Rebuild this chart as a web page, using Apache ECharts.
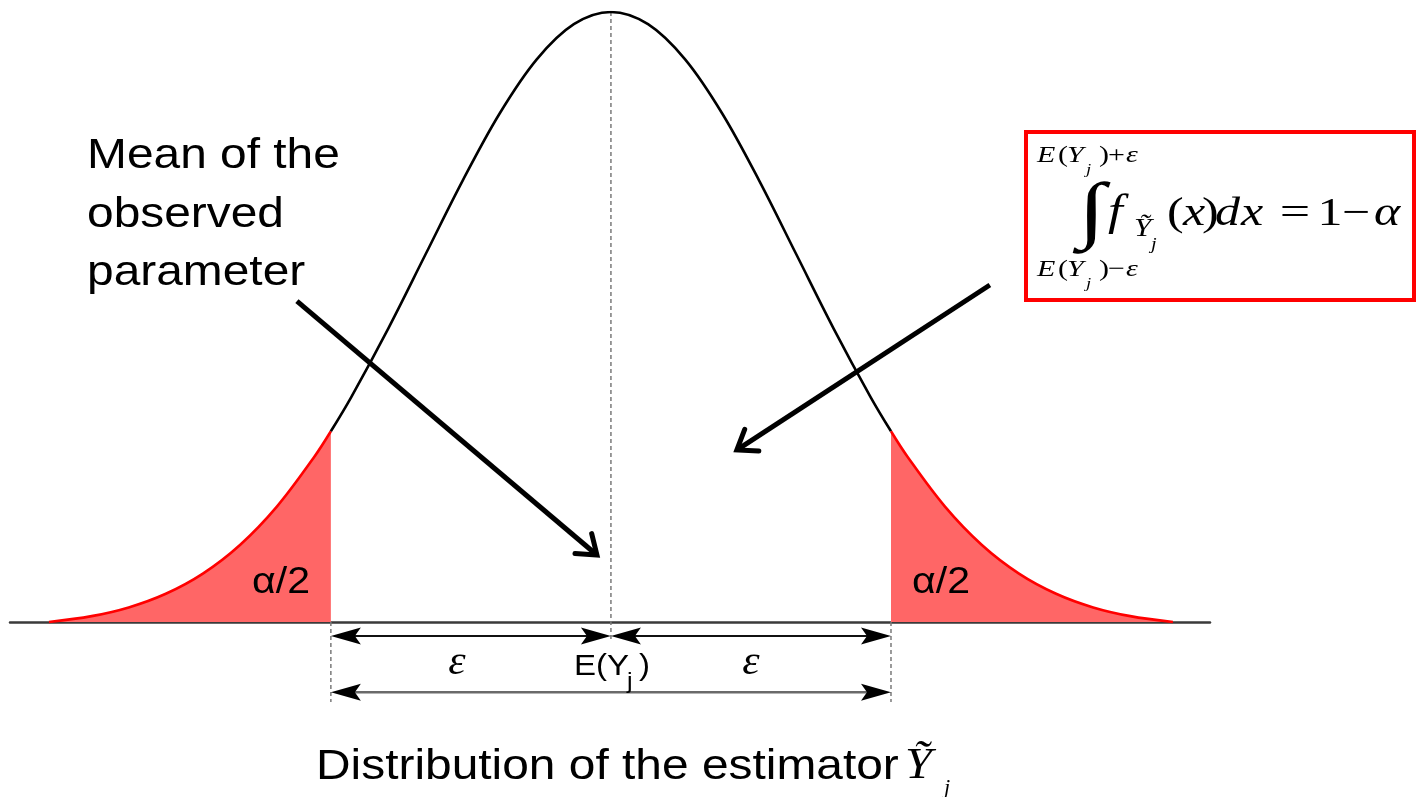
<!DOCTYPE html>
<html>
<head>
<meta charset="utf-8">
<script src="https://cdn.jsdelivr.net/npm/echarts@6/dist/echarts.min.js"></script>
<style>
  html, body { margin: 0; padding: 0; background: #ffffff; }
  #chart { width: 1416px; height: 797px; }
</style>
</head>
<body>
<div id="chart"></div>
<script>
// Position along the estimator axis (in standard deviations from the mean)
const curveX = [-3.03, -2.8, -2.6, -2.4, -2.2, -2.0, -1.8, -1.6, -1.51, -1.4, -1.2, -1.0, -0.8, -0.6, -0.4, -0.2, 0,
                0.2, 0.4, 0.6, 0.8, 1.0, 1.2, 1.4, 1.51, 1.6, 1.8, 2.0, 2.2, 2.4, 2.6, 2.8, 3.03];
// Relative density height of the estimator's distribution at each position
const curveY = [0, 0.0096, 0.0239, 0.0463, 0.0794, 0.1263, 0.1896, 0.2705, 0.3127, 0.3688, 0.4815, 0.6024, 0.7232, 0.8336, 0.9223, 0.98, 1,
                0.98, 0.9223, 0.8336, 0.7232, 0.6024, 0.4815, 0.3688, 0.3127, 0.2705, 0.1896, 0.1263, 0.0794, 0.0463, 0.0239, 0.0096, 0];
const meanValue = 0;      // E(Y_j)
const epsilon = 1.51;     // half-width of the band around the mean

// Dimension arrows: [from, to, level below the axis]
const dimensionArrows = [
  [-epsilon, meanValue, -0.023],
  [meanValue, epsilon, -0.023],
  [-epsilon, epsilon, -0.115]
];
// Dashed guides: [x, top, bottom]
const guideLines = [
  [meanValue, 1, -0.03],
  [-epsilon, 0, -0.131],
  [epsilon, 0, -0.131]
];
// Pointer arrows: [x start, y start, x tip, y tip]
const pointerArrows = [
  [-1.693, 0.526, -0.0755, 0.1098],
  [2.043, 0.5525, 0.679, 0.282]
];

const pts = curveX.map((x, i) => [x, curveY[i]]);
const leftTail = pts.filter(p => p[0] <= -epsilon);
const centre = pts.filter(p => p[0] >= -epsilon && p[0] <= epsilon);
const rightTail = pts.filter(p => p[0] >= epsilon);

const chart = echarts.init(document.getElementById('chart'), null, { renderer: 'canvas' });

function arrowHead(tip, from, len, half, color) {
  const dx = tip[0] - from[0], dy = tip[1] - from[1];
  const L = Math.hypot(dx, dy), ux = dx / L, uy = dy / L;
  const bx = tip[0] - ux * len, by = tip[1] - uy * len;
  const nx = tip[0] - ux * len * 0.8, ny = tip[1] - uy * len * 0.8;
  return {
    type: 'polygon',
    shape: { points: [tip, [bx - uy * half, by + ux * half], [nx, ny], [bx + uy * half, by - ux * half]] },
    style: { fill: color }
  };
}

function renderDimension(params, api) {
  const a = api.coord([api.value(0), api.value(2)]);
  const b = api.coord([api.value(1), api.value(2)]);
  const lower = params.dataIndex === 2;
  const lineColor = lower ? '#6a6a6a' : '#111111';
  const headLen = 30, headHalf = 8.5;
  const dir = Math.sign(b[0] - a[0]);
  return {
    type: 'group',
    children: [
      { type: 'line', shape: { x1: a[0] + dir * headLen * 0.7, y1: a[1], x2: b[0] - dir * headLen * 0.7, y2: b[1] },
        style: { stroke: lineColor, lineWidth: lower ? 2.5 : 2 } },
      arrowHead(a, b, headLen, headHalf, '#000'),
      arrowHead(b, a, headLen, headHalf, '#000')
    ]
  };
}

function renderGuide(params, api) {
  const a = api.coord([api.value(0), api.value(1)]);
  const b = api.coord([api.value(0), api.value(2)]);
  return {
    type: 'line',
    shape: { x1: a[0], y1: a[1], x2: b[0], y2: b[1] },
    style: { stroke: '#7a7a7a', lineWidth: 1.5, lineDash: [4, 3] }
  };
}

function renderPointer(params, api) {
  const s = api.coord([api.value(0), api.value(1)]);
  const t = api.coord([api.value(2), api.value(3)]);
  const dx = s[0] - t[0], dy = s[1] - t[1];
  const L = Math.hypot(dx, dy), ux = dx / L, uy = dy / L;
  const arm = 22, ang = 36 * Math.PI / 180;
  const c = Math.cos(ang), sn = Math.sin(ang);
  const r1 = [t[0] + arm * (ux * c - uy * sn), t[1] + arm * (ux * sn + uy * c)];
  const r2 = [t[0] + arm * (ux * c + uy * sn), t[1] + arm * (-ux * sn + uy * c)];
  return {
    type: 'group',
    children: [
      { type: 'line', shape: { x1: s[0], y1: s[1], x2: t[0] + ux * 2, y2: t[1] + uy * 2 },
        style: { stroke: '#000', lineWidth: 5 } },
      { type: 'polyline', shape: { points: [r1, t, r2] },
        style: { stroke: '#000', lineWidth: 5, fill: null, lineJoin: 'miter', lineCap: 'round' } }
    ]
  };
}

// Text helper: positions text by its baseline; sx widens the glyphs horizontally
function txt(text, x, base, size, opt) {
  opt = opt || {};
  const family = opt.serif ? '"Liberation Serif", "Times New Roman", serif' : '"Liberation Sans", Arial, sans-serif';
  const shift = opt.serif ? 0.3375 : 0.3465;
  return {
    type: 'text', x: x, y: base - size * shift, silent: true, z: 100,
    scaleX: opt.sx || 1,
    style: {
      text: text,
      font: (opt.italic ? 'italic ' : '') + size + 'px ' + family,
      fill: '#000',
      align: opt.align || 'left',
      verticalAlign: 'middle'
    }
  };
}

const SX = 1.14;          // horizontal widening of the slide lettering
const FX = 1.25;          // horizontal widening of the formula lettering
const lim = { serif: true, italic: true, sx: FX };
const limR = { serif: true, sx: FX };
const fI = { serif: true, italic: true, sx: FX };
const fR = { serif: true, sx: FX };

function limitRow(base, sign) {
  return [
    txt('E', 1037, base, 24, lim),
    txt('(', 1058, base, 24, limR),
    txt('Y', 1067, base, 24, lim),
    txt('j', 1086, base + 11, 15, lim),
    txt(')', 1099, base, 24, limR),
    txt(sign, 1108, base, 24, limR),
    txt('ε', 1126, base, 24, lim)
  ];
}

const graphics = [
  // Note on the left
  txt('Mean of the', 87, 171, 42, { sx: SX }),
  txt('observed', 87, 230, 42, { sx: SX }),
  txt('parameter', 87, 288, 42, { sx: SX }),
  // Tail probability labels
  txt('α/2', 252, 596, 36, { sx: SX }),
  txt('α/2', 912, 596, 36, { sx: SX }),
  // Band labels under the axis
  txt('ε', 457, 677, 40, { serif: true, italic: true, align: 'center', sx: 1.1 }),
  txt('ε', 751, 677, 40, { serif: true, italic: true, align: 'center', sx: 1.1 }),
  txt('E(Y', 574, 677, 29, { sx: SX }),
  txt('j', 627, 690, 22, { sx: SX }),
  txt(')', 639, 677, 29, { sx: SX }),
  // Axis title
  txt('Distribution of the estimator', 316, 782, 42, { sx: SX }),
  txt('Ỹ', 905, 781, 44, { serif: true, italic: true, sx: 1.1 }),
  txt('j', 944, 796, 22, { serif: true, italic: true }),
  // Formula box
  { type: 'rect', z: 90, shape: { x: 1026, y: 132, width: 388, height: 168 },
    style: { fill: '#ffffff', stroke: '#ff0000', lineWidth: 4 } }
].concat(
  limitRow(164, '+'),
  limitRow(278, '−'),
  [
    txt('∫', 1078, 240, 74, { serif: true, sx: 1.35 }),
    txt('f', 1108, 228, 44, { serif: true, italic: true, sx: 1.2 }),
    txt('Ỹ', 1134, 238, 26, { serif: true, italic: true, sx: 1.2 }),
    txt('j', 1151, 250, 17, { serif: true, italic: true, sx: 1.2 }),
    txt('(', 1167, 228, 40, fR),
    txt('x', 1183, 228, 40, fI),
    txt(')', 1202, 228, 40, fR),
    txt('d', 1215, 228, 40, fI),
    txt('x', 1241, 228, 40, fI),
    txt('=', 1295, 228, 40, { serif: true, align: 'center', sx: 1.35 }),
    txt('1', 1330, 228, 40, { serif: true, align: 'center', sx: FX }),
    txt('−', 1356, 228, 40, { serif: true, align: 'center', sx: FX }),
    txt('α', 1387, 228, 40, { serif: true, italic: true, align: 'center', sx: FX })
  ]
);

const option = {
  animation: false,
  backgroundColor: '#ffffff',
  grid: { left: 10, right: 206, top: 12, bottom: 83.5, containLabel: false },
  xAxis: {
    type: 'value', min: -3.24, max: 3.23,
    axisLine: { show: true, onZero: true, lineStyle: { color: '#3a3a3a', width: 2.5 } },
    axisTick: { show: false }, axisLabel: { show: false }, splitLine: { show: false }
  },
  yAxis: {
    type: 'value', min: -0.15, max: 1,
    axisLine: { show: false }, axisTick: { show: false }, axisLabel: { show: false }, splitLine: { show: false }
  },
  series: [
    { type: 'custom', name: 'guides', renderItem: renderGuide, data: guideLines, z: 1, silent: true },
    { type: 'line', name: 'lower tail', data: leftTail, smooth: 0.35, showSymbol: false, z: 3,
      lineStyle: { color: '#ff0000', width: 2.6 }, areaStyle: { color: '#ff6666', opacity: 1 } },
    { type: 'line', name: 'centre', data: centre, smooth: 0.35, showSymbol: false, z: 3,
      lineStyle: { color: '#000000', width: 2.6 } },
    { type: 'line', name: 'upper tail', data: rightTail, smooth: 0.35, showSymbol: false, z: 3,
      lineStyle: { color: '#ff0000', width: 2.6 }, areaStyle: { color: '#ff6666', opacity: 1 } },
    { type: 'custom', name: 'dimensions', renderItem: renderDimension, data: dimensionArrows, z: 4, silent: true },
    { type: 'custom', name: 'pointers', renderItem: renderPointer, data: pointerArrows, z: 5, silent: true }
  ],
  graphic: graphics
};

chart.setOption(option);
</script>
</body>
</html>
